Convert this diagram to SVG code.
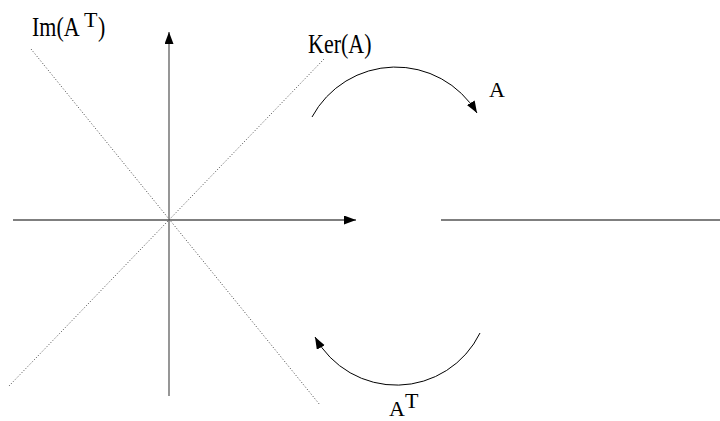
<svg xmlns="http://www.w3.org/2000/svg" width="720" height="421" viewBox="0 0 720 421">
<style>
.lbl{font-family:"Liberation Serif","Times New Roman",serif;font-size:22px;fill:#000}
.axis{stroke:#000;stroke-width:1.2;fill:none}
.vaxis{stroke:#6a6a6a;stroke-width:1.4;fill:none}
.dot{stroke:#444;stroke-width:1;stroke-dasharray:1 2;fill:none}
.arc{stroke:#000;stroke-width:1;fill:none}
</style>
<defs>
<marker id="ah" markerUnits="userSpaceOnUse" markerWidth="14" markerHeight="10" refX="12" refY="4.5" orient="auto">
<path d="M0,0 L12,4.5 L0,9 Z" fill="#000"/>
</marker>
</defs>
<g id="subspaces">
<line class="dot" x1="31" y1="49" x2="320" y2="405"/>
<line class="dot" x1="324" y1="59" x2="9" y2="386"/>
</g>
<g id="axes">
<line class="axis" x1="13" y1="220" x2="356" y2="220" marker-end="url(#ah)"/>
<line class="vaxis" x1="169" y1="396" x2="169" y2="32" marker-end="url(#ah)"/>
<line class="axis" x1="441" y1="220" x2="720" y2="220"/>
</g>
<g id="connectors">
<path class="arc" d="M312,117 A95,95 0 0 1 477,113" marker-end="url(#ah)"/>
<path class="arc" d="M480,333 A93,93 0 0 1 315,337" marker-end="url(#ah)"/>
</g>
<g id="labels">
<text class="lbl" transform="translate(32,36) scale(1,1.2)">Im(A</text>
<text class="lbl" x="84" y="27">T</text>
<text class="lbl" transform="translate(98,36) scale(1,1.2)">)</text>
<text class="lbl" transform="translate(308,53) scale(1,1.2)">Ker(A)</text>
<text class="lbl" x="489" y="97">A</text>
<text class="lbl" x="389" y="416">A</text>
<text class="lbl" x="405" y="408">T</text>
</g>
</svg>
